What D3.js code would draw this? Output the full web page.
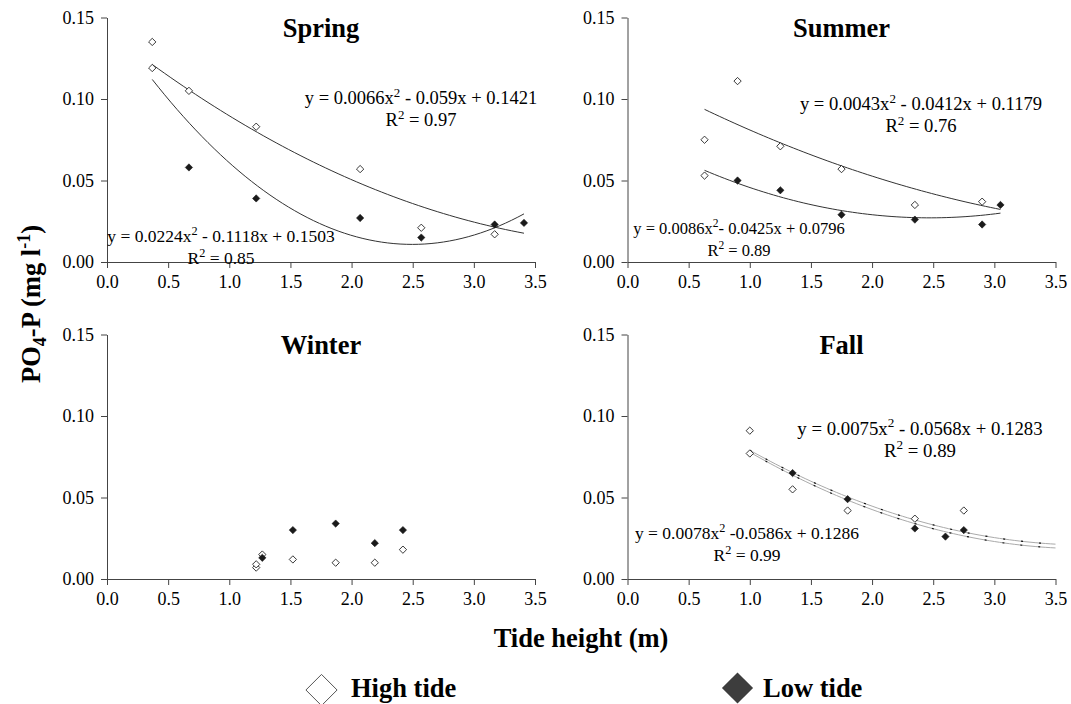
<!DOCTYPE html>
<html>
<head>
<meta charset="utf-8">
<script src="https://cdn.jsdelivr.net/npm/d3@7"></script>
<style>
  body { margin: 0; background: #fff; }
  svg text { font-family: "Liberation Serif", "Tinos", "Times New Roman", Times, serif; fill: #000; }
</style>
</head>
<body>
<svg id="chart"></svg>
<script>
// values: [tide height (m), PO4-P (mg/l)]
let seasons = ["Spring", "Summer", "Winter", "Fall"];

let springHigh = [[0.37, 0.135], [0.37, 0.119], [0.67, 0.105], [1.22, 0.083], [2.07, 0.057], [2.57, 0.021], [3.17, 0.017]];
let springLow = [[0.67, 0.058], [1.22, 0.039], [2.07, 0.027], [2.57, 0.015], [3.17, 0.023], [3.41, 0.024]];

let summerHigh = [[0.63, 0.075], [0.63, 0.053], [0.90, 0.111], [1.25, 0.071], [1.75, 0.057], [2.35, 0.035], [2.90, 0.037]];
let summerLow = [[0.90, 0.050], [1.25, 0.044], [1.75, 0.029], [2.35, 0.026], [2.90, 0.023], [3.05, 0.035]];

let winterHigh = [[1.22, 0.007], [1.22, 0.009], [1.27, 0.015], [1.52, 0.012], [1.87, 0.010], [2.19, 0.010], [2.42, 0.018]];
let winterLow = [[1.27, 0.013], [1.52, 0.030], [1.87, 0.034], [2.19, 0.022], [2.42, 0.030]];

let fallHigh = [[1.00, 0.091], [1.00, 0.077], [1.35, 0.055], [1.80, 0.042], [2.35, 0.037], [2.75, 0.042]];
let fallLow = [[1.35, 0.065], [1.80, 0.049], [2.35, 0.031], [2.60, 0.026], [2.75, 0.030]];

// trend lines as printed: [a, b, c] of a*x^2 + b*x + c, and the x span they cover
let springHighFit = [0.0066, -0.059, 0.1421];
let springLowFit = [0.0224, -0.1118, 0.1503];
let summerHighFit = [0.0043, -0.0412, 0.1179];
let summerLowFit = [0.0086, -0.0425, 0.0796];
let fallHighFit = [0.0075, -0.0568, 0.1283];
let fallLowFit = [0.0078, -0.0586, 0.1286];

let springSpan = [0.37, 3.41];
let summerSpan = [0.63, 3.05];
let fallSpan = [1.0, 3.5];

// equation labels: [before superscript, after superscript, R2]
let springHighEq = ["y = 0.0066x", " - 0.059x + 0.1421", "0.97"];
let springLowEq = ["y = 0.0224x", " - 0.1118x + 0.1503", "0.85"];
let summerHighEq = ["y = 0.0043x", " - 0.0412x + 0.1179", "0.76"];
let summerLowEq = ["y = 0.0086x", "- 0.0425x + 0.0796", "0.89"];
let fallHighEq = ["y = 0.0075x", " - 0.0568x + 0.1283", "0.89"];
let fallLowEq = ["y = 0.0078x", " -0.0586x + 0.1286", "0.99"];

let xTicks = [0, 0.5, 1.0, 1.5, 2.0, 2.5, 3.0, 3.5];
let yTicks = [0, 0.05, 0.10, 0.15];
let legendLabels = ["High tide", "Low tide"];

let width = 1071, height = 704;

let svg = d3.select("#chart")
    .attr("width", width)
    .attr("height", height)

// panel frames in page pixels
let cols = [{ x0: 107, x1: 535 }, { x0: 627.5, x1: 1055.5 }];
let rows = [{ y0: 262, y1: 17.5 }, { y0: 579, y1: 334.5 }];

let panels = [
    { name: seasons[0], col: 0, row: 0, high: springHigh, low: springLow,
      fits: [{ c: springHighFit, span: springSpan }, { c: springLowFit, span: springSpan }],
      eqs: [{ t: springHighEq, x: 421, y: 104, fs: 18.5 }, { t: springLowEq, x: 221, y: 242, fs: 17.5 }] },
    { name: seasons[1], col: 1, row: 0, high: summerHigh, low: summerLow,
      fits: [{ c: summerHighFit, span: summerSpan }, { c: summerLowFit, span: summerSpan }],
      eqs: [{ t: summerHighEq, x: 921, y: 110, fs: 18.6 }, { t: summerLowEq, x: 739, y: 234, fs: 16.5 }] },
    { name: seasons[2], col: 0, row: 1, high: winterHigh, low: winterLow, fits: [], eqs: [] },
    { name: seasons[3], col: 1, row: 1, high: fallHigh, low: fallLow,
      fits: [{ c: fallHighFit, span: fallSpan, dashed: true }, { c: fallLowFit, span: fallSpan, dashed: true }],
      eqs: [{ t: fallHighEq, x: 920, y: 435, fs: 18.8 }, { t: fallLowEq, x: 747, y: 539, fs: 17.5 }] }
];

let diamond = d3.symbol().type(d3.symbolDiamond2).size(34);

panels.forEach(function (p) {
    let c = cols[p.col], r = rows[p.row];
    let x = d3.scaleLinear().domain([0, 3.5]).range([c.x0, c.x1]);
    let y = d3.scaleLinear().domain([0, 0.15]).range([r.y0, r.y1]);

    let g = svg.append("g").attr("class", "panel " + p.name);

    g.append("g")
        .attr("transform", "translate(0," + r.y0 + ")")
        .call(d3.axisBottom(x).tickValues(xTicks).tickFormat(d3.format(".1f")).tickSize(6).tickPadding(7).tickSizeOuter(0))
    g.append("g")
        .attr("transform", "translate(" + c.x0 + ",0)")
        .call(d3.axisLeft(y).tickValues(yTicks).tickFormat(d3.format(".2f")).tickSize(6).tickPadding(7).tickSizeOuter(0))

    g.selectAll("g").attr("font-family", null)
    g.selectAll(".domain, .tick line").attr("stroke", "#444").attr("stroke-width", 1)
    g.selectAll(".tick text")
        .style("font-size", "18px")
        .attr("fill", "#000")

    g.append("text")
        .attr("x", (c.x0 + c.x1) / 2)
        .attr("y", r.y1 + 19)
        .attr("text-anchor", "middle")
        .style("font-size", "26.5px")
        .style("font-weight", "bold")
        .text(p.name)

    let line = d3.line().x(function (d) { return x(d[0]) }).y(function (d) { return y(d[1]) });

    p.fits.forEach(function (f) {
        let n = 60;
        let pts = d3.range(n + 1).map(function (i) {
            let t = f.span[0] + (f.span[1] - f.span[0]) * i / n;
            return [t, f.c[0] * t * t + f.c[1] * t + f.c[2]];
        });
        if (f.dashed) {
            g.append("path").datum(pts).attr("d", line)
                .attr("fill", "none").attr("stroke", "#aaa").attr("stroke-width", 1)
            g.append("path").datum(pts).attr("d", line)
                .attr("fill", "none").attr("stroke", "#111").attr("stroke-width", 1.2)
                .attr("stroke-dasharray", "2,16")
        } else {
            g.append("path").datum(pts).attr("d", line)
                .attr("fill", "none").attr("stroke", "#333").attr("stroke-width", 1)
        }
    });

    g.selectAll(".hi")
        .data(p.high)
        .enter()
        .append("path")
        .attr("transform", function (d) { return "translate(" + x(d[0]) + "," + y(d[1]) + ")" })
        .attr("d", diamond)
        .attr("fill", "#fff")
        .attr("stroke", "#222")
        .attr("stroke-width", 0.9)

    g.selectAll(".lo")
        .data(p.low)
        .enter()
        .append("path")
        .attr("transform", function (d) { return "translate(" + x(d[0]) + "," + y(d[1]) + ")" })
        .attr("d", diamond)
        .attr("fill", "#1a1a1a")
        .attr("stroke", "#1a1a1a")
        .attr("stroke-width", 0.6)

    p.eqs.forEach(function (e) {
        let t = g.append("text")
            .attr("x", e.x)
            .attr("y", e.y)
            .attr("text-anchor", "middle")
            .style("font-size", e.fs + "px")
        t.append("tspan").text(e.t[0])
        t.append("tspan").attr("dy", -0.4 * e.fs).style("font-size", (e.fs * 0.7) + "px").text("2")
        t.append("tspan").attr("dy", 0.4 * e.fs).text(e.t[1])

        let r2 = g.append("text")
            .attr("x", e.x)
            .attr("y", e.y + 22)
            .attr("text-anchor", "middle")
            .style("font-size", e.fs + "px")
        r2.append("tspan").text("R")
        r2.append("tspan").attr("dy", -0.4 * e.fs).style("font-size", (e.fs * 0.7) + "px").text("2")
        r2.append("tspan").attr("dy", 0.4 * e.fs).text(" = " + e.t[2])
    });
});

// y axis title
let yTitle = svg.append("text")
    .attr("transform", "translate(40,304)rotate(-90)")
    .attr("text-anchor", "middle")
    .style("font-size", "26.5px")
    .style("font-weight", "bold")
yTitle.append("tspan").text("PO")
yTitle.append("tspan").attr("dy", 6).style("font-size", "18px").text("4")
yTitle.append("tspan").attr("dy", -6).text("-P (mg l")
yTitle.append("tspan").attr("dy", -10).style("font-size", "18px").text("-1")
yTitle.append("tspan").attr("dy", 10).text(")")

svg.append("text")
    .attr("x", 581)
    .attr("y", 647)
    .attr("text-anchor", "middle")
    .style("font-size", "26.5px")
    .style("font-weight", "bold")
    .text("Tide height (m)")

// legend
let bigDiamond = d3.symbol().type(d3.symbolDiamond2).size(620);

svg.append("path")
    .attr("transform", "translate(321.5,690)")
    .attr("d", bigDiamond)
    .attr("fill", "#fff")
    .attr("stroke", "#555")
    .attr("stroke-width", 1)
svg.append("text")
    .attr("x", 351)
    .attr("y", 697)
    .style("font-size", "26.5px")
    .style("font-weight", "bold")
    .text(legendLabels[0])

svg.append("path")
    .attr("transform", "translate(737.5,688)")
    .attr("d", bigDiamond)
    .attr("fill", "#3d3d3d")
svg.append("text")
    .attr("x", 763)
    .attr("y", 697)
    .style("font-size", "26.5px")
    .style("font-weight", "bold")
    .text(legendLabels[1])
</script>
</body>
</html>
